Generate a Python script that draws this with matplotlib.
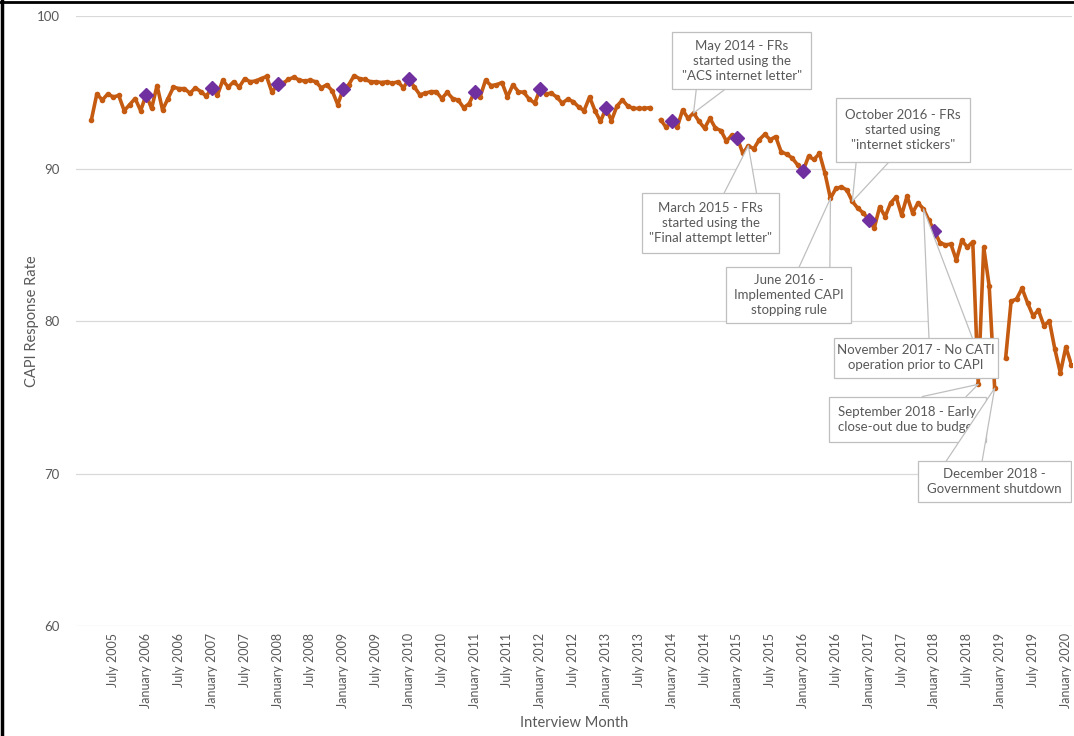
import numpy as np
import matplotlib.pyplot as plt
from matplotlib.patches import Rectangle, Polygon
from matplotlib.lines import Line2D

plt.rcParams['font.family'] = ['Lato', 'DejaVu Sans']

nan = np.nan

# CAPI response rate by interview month (January..December)
rate_2005 = [nan, nan, 93.2, 94.9, 94.5, 94.9, 94.7, 94.8, 93.8, 94.2, 94.6, 93.8]
rate_2006 = [94.85, 93.95, 95.45, 93.85, 94.6, 95.35, 95.25, 95.25, 94.95, 95.3, 95.05, 94.75]
rate_2007 = [95.3, 94.8, 95.8, 95.35, 95.7, 95.35, 95.9, 95.7, 95.75, 95.9, 96.05, 95.0]
rate_2008 = [95.55, 95.6, 95.85, 96.0, 95.8, 95.75, 95.8, 95.7, 95.3, 95.5, 95.1, 94.2]
rate_2009 = [95.2, 95.5, 96.1, 95.9, 95.85, 95.7, 95.7, 95.65, 95.7, 95.6, 95.7, 95.3]
rate_2010 = [95.85, 95.35, 94.85, 94.95, 95.05, 95.05, 94.6, 95.0, 94.6, 94.5, 94.0, 94.25]
rate_2011 = [95.05, 94.7, 95.8, 95.45, 95.5, 95.65, 94.7, 95.5, 95.05, 95.0, 94.55, 94.3]
rate_2012 = [95.25, 94.9, 94.95, 94.7, 94.3, 94.55, 94.4, 94.05, 93.8, 94.7, 93.8, 93.1]
rate_2013 = [93.95, 93.15, 94.1, 94.5, 94.1, 93.95, 93.95, 93.95, 94.0, nan, 93.2, 92.7]
rate_2014 = [93.1, 92.7, 93.85, 93.3, 93.65, 93.1, 92.65, 93.3, 92.65, 92.5, 91.8, 92.2]
rate_2015 = [92.0, 91.0, 91.5, 91.3, 91.9, 92.25, 91.9, 92.1, 91.1, 90.95, 90.7, 90.25]
rate_2016 = [89.85, 90.8, 90.6, 91.0, 89.7, 88.05, 88.7, 88.8, 88.6, 87.85, 87.4, 87.1]
rate_2017 = [86.65, 86.1, 87.5, 86.85, 87.75, 88.15, 86.95, 88.2, 87.1, 87.75, 87.35, 86.6]
rate_2018 = [85.9, 85.15, 85.0, 85.05, 84.0, 85.3, 84.85, 85.2, 75.85, 84.85, 82.3, 75.6]
rate_2019 = [nan, 77.55, 81.3, 81.45, 82.15, 81.2, 80.35, 80.7, 79.7, 80.0, 78.15, 76.6]
rate_2020 = [78.3, 77.15]

rate = np.array(rate_2005 + rate_2006 + rate_2007 + rate_2008 + rate_2009 + rate_2010
                + rate_2011 + rate_2012 + rate_2013 + rate_2014 + rate_2015 + rate_2016
                + rate_2017 + rate_2018 + rate_2019 + rate_2020)
months = np.arange(len(rate))  # 0 = January 2005

month_names = ['January', 'February', 'March', 'April', 'May', 'June', 'July',
               'August', 'September', 'October', 'November', 'December']
tick_pos = np.arange(6, 181, 6)
tick_labels = [f"{month_names[p % 12]} {2005 + p // 12}" for p in tick_pos]

# purple diamonds on the January points
jan_years = list(range(2006, 2019))

# callouts: text, (year, month) pointed at, box (x0, x1, y0, y1), wedge base x's on box edge
callouts = [
    ('May 2014 - FRs\nstarted using the\n"ACS internet letter"', (2014, 5), (108.1, 133.5, 95.22, 98.95), (112.5, 117.8)),
    ('March 2015 - FRs\nstarted using the\n"Final attempt letter"', (2015, 3), (102.6, 127.6, 84.48, 88.41), (117.6, 123.5)),
    ('June 2016 -\nImplemented CAPI\nstopping rule', (2016, 6), (118.0, 140.8, 79.9, 83.56), (131.3, 136.9)),
    ('October 2016 - FRs\nstarted using\n"internet stickers"', (2016, 10), (138.0, 162.5, 90.44, 94.63), (141.7, 147.7)),
    ('November 2017 - No CATI\noperation prior to CAPI', (2017, 11), (137.7, 167.6, 76.29, 78.91), (155.0, 162.9)),
    ('September 2018 - Early\nclose-out due to budget', (2018, 9), (136.8, 165.4, 72.1, 75.05), (153.8, 161.8)),
    ('December 2018 -\nGovernment shutdown', (2018, 12), (153.0, 180.9, 68.11, 70.79), (158.1, 164.7)),
]

orange = '#C55A11'
purple = '#7030A0'
grey_text = '#595959'
box_edge = '#bfbfbf'

fig = plt.figure(figsize=(10.74, 7.36), dpi=100)
ax = fig.add_axes([0.0708, 0.1495, 0.9272, 0.8285])

ax.plot(months, rate, color=orange, lw=2.6, marker='o', ms=3.0, zorder=3)
jan_idx = [(y - 2005) * 12 for y in jan_years]
ax.plot(jan_idx, rate[jan_idx], linestyle='none', marker='D', ms=7,
        color=purple, zorder=4)

for i, (text, (yr, mo), (x0, x1, y0, y1), (b0, b1)) in enumerate(callouts):
    z = 5 + 0.1 * i
    tip_x = (yr - 2005) * 12 + mo - 1
    tip_y = rate[tip_x]
    base_y = y1 if tip_y > y1 else y0
    ax.add_patch(Polygon([(b0, base_y), (b1, base_y), (tip_x, tip_y)], closed=True,
                         fc='white', ec='none', zorder=z - 0.02))
    ax.plot([b0, tip_x, b1], [base_y, tip_y, base_y], color=box_edge, lw=0.9,
            zorder=z - 0.01)
    ax.add_patch(Rectangle((x0, y0), x1 - x0, y1 - y0, fc='white', ec=box_edge,
                           lw=0.9, zorder=z))
    ax.text((x0 + x1) / 2, (y0 + y1) / 2, text, ha='center', va='center',
            fontsize=9.5, color=grey_text, linespacing=1.3, zorder=z + 0.01)

ax.set_xlim(-0.8, 181.1)
ax.set_ylim(60, 100)
ax.set_yticks(np.arange(60, 101, 10))
ax.set_xticks(tick_pos)
ax.set_xticklabels(tick_labels, rotation=90, fontsize=9, color=grey_text)
ax.tick_params(axis='y', labelsize=9.5, labelcolor=grey_text, length=0, pad=12)
ax.tick_params(axis='x', length=0, pad=5)
ax.grid(axis='y', color='#d9d9d9', lw=0.9)
ax.set_axisbelow(True)
for s in ax.spines.values():
    s.set_visible(False)

ax.set_ylabel('CAPI Response Rate', fontsize=10.5, color=grey_text)
ax.yaxis.set_label_coords(-0.037, 0.5)
ax.set_xlabel('Interview Month', fontsize=10.5, color=grey_text, labelpad=6)

# frame of the screenshot
fig.add_artist(Line2D([0.0015, 0.0015], [0, 1], transform=fig.transFigure, color='black', lw=2.5))
fig.add_artist(Line2D([0, 1], [0.997, 0.997], transform=fig.transFigure, color='black', lw=2))

fig.savefig('out.png', dpi=100)
